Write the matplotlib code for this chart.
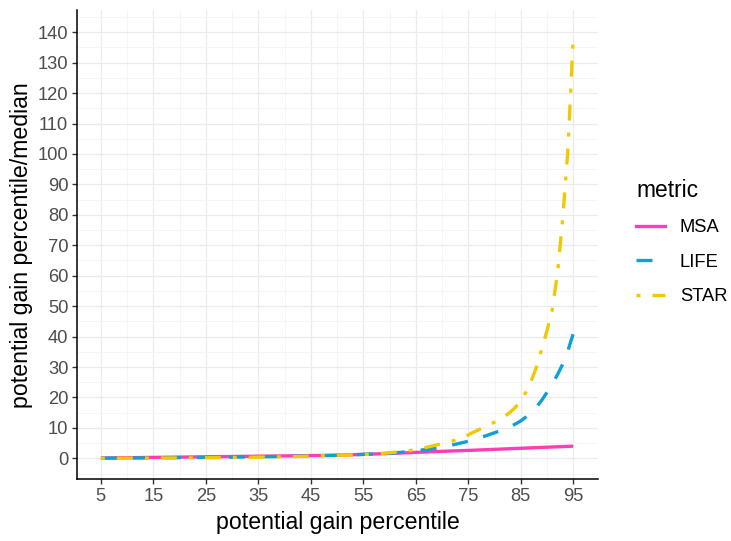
import matplotlib
matplotlib.use("Agg")
import matplotlib.pyplot as plt
from matplotlib.lines import Line2D

plt.rcParams['font.family'] = ['Liberation Sans', 'DejaVu Sans']

# percentile positions
percentile = list(range(5, 96))

# ratio of each percentile's potential gain to the median, by metric
msa = [0.10, 0.12, 0.14, 0.16, 0.18, 0.20, 0.22, 0.24, 0.26, 0.28,
       0.30, 0.32, 0.34, 0.36, 0.38, 0.40, 0.42, 0.44, 0.46, 0.48,
       0.50, 0.52, 0.54, 0.56, 0.58, 0.60, 0.62, 0.64, 0.66, 0.68,
       0.70, 0.72, 0.74, 0.76, 0.78, 0.80, 0.82, 0.84, 0.86, 0.88,
       0.90, 0.92, 0.94, 0.96, 0.98, 1.00, 1.06, 1.12, 1.18, 1.24,
       1.30, 1.36, 1.42, 1.48, 1.54, 1.60, 1.67, 1.74, 1.81, 1.88,
       1.95, 2.02, 2.09, 2.16, 2.23, 2.30, 2.36, 2.42, 2.48, 2.54,
       2.60, 2.67, 2.74, 2.81, 2.88, 2.95, 3.02, 3.09, 3.16, 3.23,
       3.30, 3.37, 3.44, 3.51, 3.58, 3.65, 3.72, 3.79, 3.86, 3.93,
       4.00]
life = [0.05, 0.06, 0.07, 0.08, 0.09, 0.10, 0.11, 0.12, 0.13, 0.15,
        0.16, 0.17, 0.19, 0.20, 0.21, 0.23, 0.24, 0.26, 0.28, 0.29,
        0.31, 0.33, 0.35, 0.36, 0.38, 0.40, 0.42, 0.44, 0.46, 0.48,
        0.50, 0.52, 0.54, 0.57, 0.59, 0.62, 0.65, 0.68, 0.72, 0.76,
        0.80, 0.84, 0.88, 0.92, 0.96, 1.00, 1.05, 1.10, 1.16, 1.22,
        1.30, 1.37, 1.44, 1.52, 1.60, 1.68, 1.80, 1.95, 2.10, 2.30,
        2.50, 2.70, 2.90, 3.10, 3.40, 3.70, 4.00, 4.40, 4.80, 5.20,
        5.60, 6.10, 6.60, 7.20, 7.80, 8.40, 9.00, 9.60, 10.4, 11.3,
        12.3, 13.6, 15.1, 16.9, 19.1, 21.7, 24.5, 27.5, 31.0, 35.5,
        41.0]
star = [0.02, 0.03, 0.03, 0.04, 0.04, 0.05, 0.06, 0.06, 0.07, 0.08,
        0.09, 0.10, 0.11, 0.12, 0.13, 0.14, 0.15, 0.16, 0.17, 0.19,
        0.20, 0.22, 0.23, 0.25, 0.26, 0.28, 0.30, 0.32, 0.34, 0.36,
        0.38, 0.41, 0.43, 0.46, 0.49, 0.52, 0.56, 0.59, 0.63, 0.67,
        0.72, 0.77, 0.82, 0.88, 0.94, 1.00, 1.04, 1.08, 1.13, 1.18,
        1.24, 1.31, 1.42, 1.55, 1.70, 1.85, 2.00, 2.20, 2.40, 2.60,
        2.90, 3.20, 3.60, 4.00, 4.40, 4.80, 5.20, 5.70, 6.20, 6.90,
        7.70, 8.60, 9.40, 10.2, 11.0, 11.9, 12.8, 13.9, 15.2, 16.8,
        19.0, 21.8, 25.5, 30.0, 36.0, 42.0, 49.0, 61.0, 79.0, 102.0,
        139.0]

metrics = ["MSA", "LIFE", "STAR"]
colors = {"MSA": "#FF3DB4", "LIFE": "#0FA0D6", "STAR": "#F2C800"}
styles = {"MSA": "-", "LIFE": (0, (4.8, 4.8)),
          "STAR": (0, (1.2, 3.6, 4.8, 3.6))}
series = {"MSA": msa, "LIFE": life, "STAR": star}

x_major = list(range(5, 96, 10))
x_minor = list(range(10, 91, 10))
y_major = list(range(0, 141, 10))
y_minor = list(range(-5, 146, 10))

fig = plt.figure(figsize=(7.31, 5.41), dpi=100)
ax = fig.add_axes([0.1057, 0.114, 0.7123, 0.8675])

lw = 2.4
for i, m in enumerate(metrics):
    ax.plot(percentile, series[m], color=colors[m], linestyle=styles[m],
            linewidth=lw, solid_capstyle='butt', dash_capstyle='butt',
            zorder=3 + i)

ax.set_xlim(0.5, 99.7)
ax.set_ylim(-6.9, 147.3)

ax.set_xticks(x_major)
ax.set_xticks(x_minor, minor=True)
ax.set_yticks(y_major)
ax.set_yticks(y_minor, minor=True)

ax.grid(True, which='major', color='#EBEBEB', linewidth=0.9, zorder=0)
ax.grid(True, which='minor', color='#F4F4F4', linewidth=0.6, zorder=0)
ax.set_axisbelow(True)

for s in ['top', 'right']:
    ax.spines[s].set_visible(False)
for s in ['left', 'bottom']:
    ax.spines[s].set_linewidth(1.1)
    ax.spines[s].set_color('black')

ax.tick_params(axis='both', which='major', length=3.5, width=1.0,
               color='#333333', labelsize=13.2, labelcolor='#4D4D4D', pad=3)
ax.tick_params(axis='both', which='minor', length=0)

ax.set_xlabel("potential gain percentile", fontsize=16.7, color='black',
              labelpad=4)
ax.set_ylabel("potential gain percentile/median", fontsize=16.7,
              color='black', labelpad=3)

handles = [Line2D([0], [0], color=colors[m], linestyle=styles[m],
                  linewidth=lw) for m in metrics]
leg = fig.legend(handles, metrics, title="metric", loc='center left',
                 bbox_to_anchor=(0.870, 0.553), frameon=False, fontsize=13.2,
                 title_fontsize=16.4, handlelength=1.6, handletextpad=0.8,
                 labelspacing=0.95, alignment='left', borderaxespad=0,
                 borderpad=0)

fig.savefig("out.png", dpi=100)
